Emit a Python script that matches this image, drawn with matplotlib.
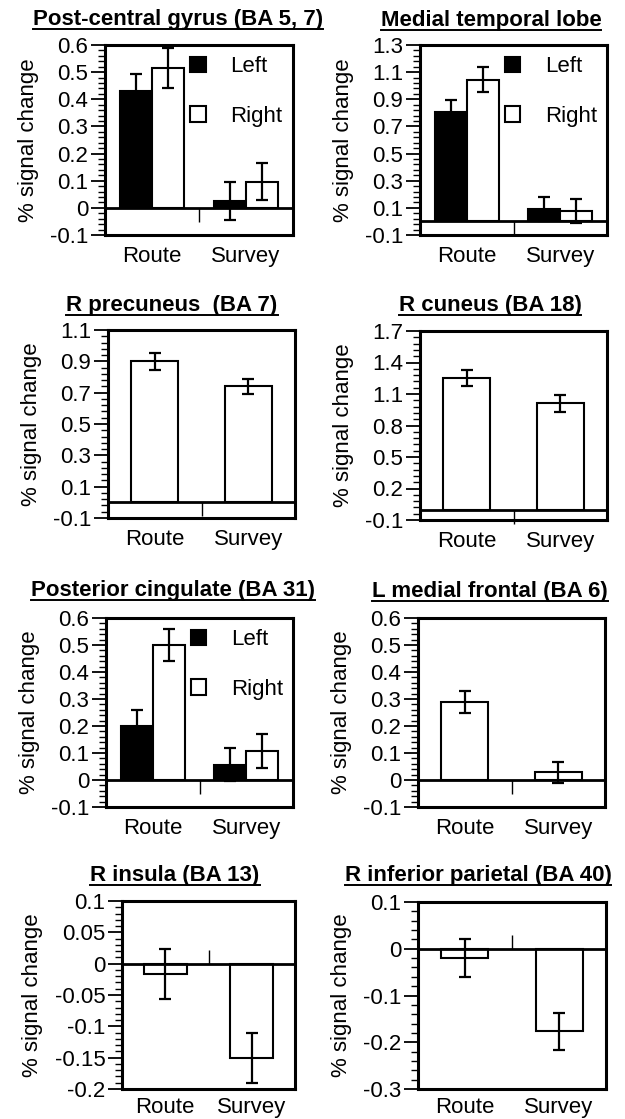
import numpy as np
import matplotlib
matplotlib.use('Agg')
import matplotlib.pyplot as plt
from matplotlib.ticker import FixedLocator, AutoMinorLocator, FuncFormatter
from matplotlib.patches import Patch
from matplotlib.lines import Line2D

plt.rcParams['font.family'] = ['Liberation Sans', 'DejaVu Sans']
plt.rcParams['axes.unicode_minus'] = False

# conditions on the x axis
conditions = ['Route', 'Survey']
hemispheres = ['Left', 'Right']

# bilateral regions: left / right hemisphere means and error bars (Route, Survey)
postcentral_left = [0.43, 0.025]
postcentral_left_err = [0.065, 0.07]
postcentral_right = [0.515, 0.097]
postcentral_right_err = [0.075, 0.068]

mtl_left = [0.81, 0.09]
mtl_left_err = [0.085, 0.09]
mtl_right = [1.045, 0.077]
mtl_right_err = [0.09, 0.09]

cingulate_left = [0.20, 0.057]
cingulate_left_err = [0.058, 0.06]
cingulate_right = [0.50, 0.107]
cingulate_right_err = [0.06, 0.062]

# single regions: means and error bars (Route, Survey)
precuneus = [0.90, 0.74]
precuneus_err = [0.053, 0.05]

cuneus = [1.25, 1.01]
cuneus_err = [0.075, 0.077]

medial_frontal = [0.288, 0.028]
medial_frontal_err = [0.04, 0.04]

insula = [-0.0165, -0.151]
insula_err = [0.04, 0.04]

inf_parietal = [-0.02, -0.177]
inf_parietal_err = [0.04, 0.04]

# panel titles and y axis ticks (first and last tick are the axis limits)
titles = ['Post-central gyrus (BA 5, 7)', 'Medial temporal lobe',
          'R precuneus  (BA 7)', 'R cuneus (BA 18)',
          'Posterior cingulate (BA 31)', 'L medial frontal (BA 6)',
          'R insula (BA 13)', 'R inferior parietal (BA 40)']
yticks_a = [-0.1, 0, 0.1, 0.2, 0.3, 0.4, 0.5, 0.6]
yticks_mtl = [-0.1, 0.1, 0.3, 0.5, 0.7, 0.9, 1.1, 1.3]
yticks_precuneus = [-0.1, 0.1, 0.3, 0.5, 0.7, 0.9, 1.1]
yticks_cuneus = [-0.1, 0.2, 0.5, 0.8, 1.1, 1.4, 1.7]
yticks_insula = [-0.2, -0.15, -0.1, -0.05, 0, 0.05, 0.1]
yticks_parietal = [-0.3, -0.2, -0.1, 0, 0.1]
yticks = [yticks_a, yticks_mtl, yticks_precuneus, yticks_cuneus,
          yticks_a, yticks_a, yticks_insula, yticks_parietal]

panel_data = [
    ('pair', postcentral_left, postcentral_left_err, postcentral_right, postcentral_right_err),
    ('pair', mtl_left, mtl_left_err, mtl_right, mtl_right_err),
    ('single', precuneus, precuneus_err),
    ('single', cuneus, cuneus_err),
    ('pair', cingulate_left, cingulate_left_err, cingulate_right, cingulate_right_err),
    ('single', medial_frontal, medial_frontal_err),
    ('single', insula, insula_err),
    ('single', inf_parietal, inf_parietal_err),
]

W, H = 625, 1119
fig = plt.figure(figsize=(W / 100, H / 100), dpi=100)

# axes boxes in pixels: (left, top, right, bottom)
boxes = [(105, 45, 293, 235), (420, 45, 607, 235),
         (108, 330, 295, 518), (420, 331, 607, 520),
         (106, 618, 293, 807), (418, 618, 605, 807),
         (122, 901, 295, 1089), (418, 902, 606, 1089)]
title_x = [178, 491, 172, 490, 173, 490, 175, 478]
title_base = [25, 26, 311, 311, 596, 597, 881, 881]

fmt = FuncFormatter(lambda v, p: '%g' % round(v, 3))
err_kw = dict(elinewidth=1.6, capsize=4.5, capthick=1.6, ecolor='black')
pos = np.array([0.5, 1.5])

title_texts = []
for i in range(8):
    l, t, r, b = boxes[i]
    ax = fig.add_axes([l / W, 1 - b / H, (r - l) / W, (b - t) / H])
    d = panel_data[i]
    if d[0] == 'pair':
        w = 0.34
        ax.bar(pos - w / 2, d[1], w, yerr=d[2], color='black', edgecolor='black',
               linewidth=1.5, error_kw=err_kw, zorder=2)
        ax.bar(pos + w / 2, d[3], w, yerr=d[4], color='white', edgecolor='black',
               linewidth=1.5, error_kw=err_kw, zorder=2)
        handles = [Patch(facecolor='black', edgecolor='black', linewidth=1.5),
                   Patch(facecolor='white', edgecolor='black', linewidth=1.5)]
        ax.legend(handles, hemispheres, loc='upper left', bbox_to_anchor=(0.43, 0.965),
                  frameon=False, fontsize=16, handlelength=0.7, handleheight=0.7,
                  handletextpad=1.1, labelspacing=1.3, borderaxespad=0, borderpad=0.2)
    else:
        ax.bar(pos, d[1], 0.5, yerr=d[2], color='white', edgecolor='black',
               linewidth=1.5, error_kw=err_kw, zorder=2)

    ax.axhline(0, color='black', lw=2, zorder=3)
    ticks = yticks[i]
    lo, hi = ticks[0], ticks[-1]
    # divider between the two conditions, drawn as a tick from the zero line
    ax.plot([1], [0], marker=3 if hi > 0.2 else 2, markersize=10,
            mew=1.0, color='black', clip_on=False, zorder=3)

    ax.set_xlim(0, 2)
    ax.set_ylim(lo, hi)
    ax.yaxis.set_major_locator(FixedLocator(ticks))
    ax.yaxis.set_minor_locator(AutoMinorLocator(5))
    ax.yaxis.set_major_formatter(fmt)
    ax.set_xticks(pos)
    ax.set_xticklabels(conditions)
    ax.tick_params(axis='x', length=0, pad=8 if i < 6 else 6, labelsize=16)
    ax.tick_params(axis='y', which='major', direction='out', length=10, width=1.3,
                   labelsize=16, pad=2)
    ax.tick_params(axis='y', which='minor', direction='out', length=5, width=1.0)
    ax.set_ylabel('% signal change', fontsize=16, labelpad=8)
    for s in ax.spines.values():
        s.set_linewidth(2.2)

    tt = fig.text(title_x[i] / W, 1 - title_base[i] / H, titles[i], fontsize=16,
                  fontweight='bold', ha='center', va='baseline')
    title_texts.append((tt, title_base[i]))

# underline the titles
fig.canvas.draw()
renderer = fig.canvas.get_renderer()
for tt, base in title_texts:
    bb = tt.get_window_extent(renderer)
    yline = 1 - (base + 4) / H
    fig.add_artist(Line2D([bb.x0 / W, bb.x1 / W], [yline, yline], color='black',
                          lw=1.4, transform=fig.transFigure))

fig.savefig('out.png', dpi=100)
